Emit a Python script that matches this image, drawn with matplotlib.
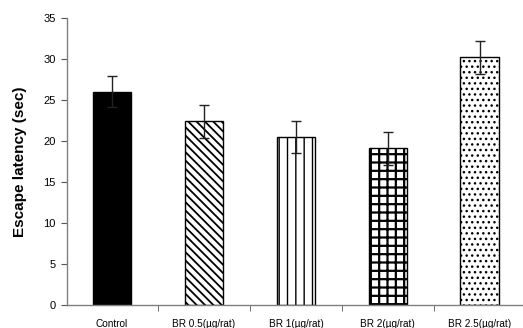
import matplotlib.pyplot as plt
import numpy as np

groups = ["Control", "BR 0.5(µg/rat)", "BR 1(µg/rat)", "BR 2(µg/rat)", "BR 2.5(µg/rat)"]
latency = [26.0, 22.4, 20.5, 19.1, 30.2]
latency_err = [1.9, 2.0, 2.0, 2.0, 2.0]
hatches = [None, "\\\\\\\\", "||", "++", "..."]
hatch_widths = [1.0, 1.3, 1.0, 1.6, 1.0]
fills = ["black", "white", "white", "white", "white"]

plt.rcParams["font.family"] = ["Liberation Sans", "DejaVu Sans"]

fig = plt.figure(figsize=(5.23, 3.28), dpi=100)
ax = fig.add_axes([67 / 523, 23 / 328, 456 / 523, 287 / 328])

x = np.arange(len(groups))
for i in range(len(groups)):
    with plt.rc_context({"hatch.linewidth": hatch_widths[i]}):
        ax.bar(x[i], latency[i], width=0.42, color=fills[i], edgecolor="black",
               linewidth=1.0, hatch=hatches[i], zorder=2)

ax.errorbar(x, latency, yerr=latency_err, fmt="none", ecolor="#222222",
            elinewidth=1.0, capsize=3.6, capthick=1.0, zorder=3)

ax.set_xlim(-0.49, 4.47)
ax.set_ylim(0, 35)
ax.set_yticks(np.arange(0, 36, 5))

ax.set_xticks(x)
ax.set_xticklabels(groups, fontsize=7.2)
ax.set_xticks(x[:-1] + 0.5, minor=True)
ax.tick_params(axis="x", which="major", length=0, pad=10)
ax.tick_params(axis="x", which="minor", length=4, color="#555555", direction="out")
ax.tick_params(axis="y", length=4, color="#555555", labelsize=8, pad=4)

for side in ["top", "right"]:
    ax.spines[side].set_visible(False)
for side in ["left", "bottom"]:
    ax.spines[side].set_color("#808080")
    ax.spines[side].set_linewidth(1.0)

ax.set_ylabel("Escape latency (sec)", fontsize=11, fontweight="bold", labelpad=12)

fig.savefig("out.png", dpi=100)
plt.close(fig)
